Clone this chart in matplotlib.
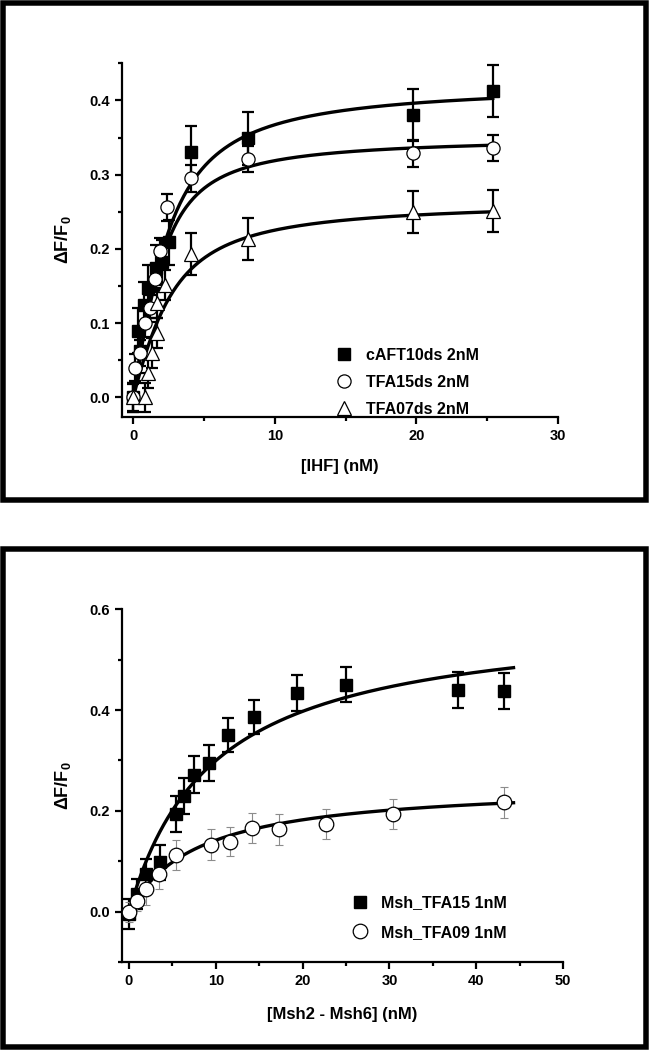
import numpy as np
import matplotlib
matplotlib.use("Agg")
import matplotlib.pyplot as plt
from matplotlib.patches import Rectangle

plt.rcParams["font.family"] = ["Liberation Sans", "DejaVu Sans"]
plt.rcParams["font.weight"] = "bold"
plt.rcParams["mathtext.fontset"] = "custom"
plt.rcParams["mathtext.rm"] = "Liberation Sans:bold"
plt.rcParams["mathtext.bf"] = "Liberation Sans:bold"

# ---- top panel: IHF titration ----
ihf_sq_x = [0, 0.35, 0.5, 0.75, 1.05, 1.6, 2.0, 2.5, 4.07, 8.1, 19.8, 25.4]
ihf_sq_y = [0.0, 0.09, 0.063, 0.125, 0.148, 0.175, 0.182, 0.209, 0.330, 0.349, 0.381, 0.413]
ihf_sq_e = [0.02, 0.03, 0.03, 0.03, 0.03, 0.03, 0.03, 0.03, 0.035, 0.036, 0.035, 0.035]

ihf_ci_x = [0, 0.15, 0.5, 0.8, 1.2, 1.5, 1.9, 2.35, 4.07, 8.1, 19.8, 25.4]
ihf_ci_y = [0.0, 0.04, 0.06, 0.1, 0.12, 0.16, 0.197, 0.256, 0.295, 0.321, 0.329, 0.336]
ihf_ci_e = [0.018] * 12

ihf_tr_x = [0, 0.8, 1.05, 1.3, 1.65, 1.7, 2.25, 4.07, 8.1, 19.8, 25.4]
ihf_tr_y = [0.0, 0.0, 0.033, 0.06, 0.087, 0.127, 0.151, 0.1935, 0.213, 0.25, 0.251]
ihf_tr_e = [0.02, 0.02, 0.02, 0.02, 0.02, 0.02, 0.02, 0.028, 0.028, 0.028, 0.028]

ihf_labels = ["cAFT10ds 2nM", "TFA15ds 2nM", "TFA07ds 2nM"]
# quadratic binding fits (DNA 2 nM): (Bmax, Kd)
ihf_fits = [(0.425, 1.3), (0.352, 0.85), (0.266, 1.5)]
ihf_dna = 2.0

# ---- bottom panel: Msh2-Msh6 titration ----
msh_sq_x = [0, 0.9, 2.0, 3.6, 5.4, 6.3, 7.5, 9.2, 11.4, 14.4, 19.4, 25.0, 37.9, 43.2]
msh_sq_y = [-0.005, 0.035, 0.075, 0.098, 0.193, 0.229, 0.272, 0.295, 0.35, 0.386, 0.434, 0.45, 0.44, 0.438]
msh_sq_e = [0.03, 0.03, 0.03, 0.035, 0.036, 0.036, 0.036, 0.035, 0.034, 0.034, 0.036, 0.035, 0.036, 0.036]

msh_ci_x = [0, 0.9, 2.0, 3.5, 5.4, 9.5, 11.6, 14.2, 17.3, 22.7, 30.4, 43.2]
msh_ci_y = [0.0, 0.021, 0.044, 0.074, 0.112, 0.133, 0.139, 0.166, 0.163, 0.174, 0.193, 0.217]
msh_ci_e = [0.02, 0.02, 0.03, 0.03, 0.03, 0.03, 0.029, 0.03, 0.031, 0.029, 0.03, 0.031]

msh_labels = ["Msh_TFA15 1nM", "Msh_TFA09 1nM"]
# hyperbolic fits: (Bmax, Kd)
msh_fits = [(0.59, 9.7), (0.255, 8.0)]


def quad_bind(x, bmax, kd, d):
    s = d + x + kd
    return bmax * (s - np.sqrt(s * s - 4 * d * x)) / (2 * d)


def style_axes(ax):
    for side in ["top", "right"]:
        ax.spines[side].set_visible(False)
    for side in ["left", "bottom"]:
        ax.spines[side].set_linewidth(1.6)
    ax.tick_params(which="major", direction="out", length=5, width=1.6, labelsize=10.5)
    ax.tick_params(which="minor", direction="out", length=3, width=1.6)
    for lab in ax.get_xticklabels() + ax.get_yticklabels():
        lab.set_fontweight("bold")


fig = plt.figure(figsize=(6.49, 10.5), dpi=100)

# frames around the two panels
lw_px = 5.5
hw = lw_px / 2
for top_px, bot_px in [(0, 503), (546, 1050)]:
    fig.add_artist(Rectangle((hw / 649, 1 - (bot_px - hw) / 1050),
                             (649 - 2 * hw) / 649, (bot_px - top_px - 2 * hw) / 1050,
                             transform=fig.transFigure, fill=False,
                             edgecolor="black", linewidth=lw_px * 0.72))

# top panel
ax1 = fig.add_axes([0.1875, 0.6031, 0.672, 0.3366])
eb_kw = dict(fmt="none", ecolor="black", elinewidth=1.6, capsize=4, capthick=1.6, zorder=2)
ax1.errorbar(ihf_sq_x, ihf_sq_y, yerr=ihf_sq_e, **eb_kw)
ax1.errorbar(ihf_ci_x, ihf_ci_y, yerr=ihf_ci_e, **eb_kw)
ax1.errorbar(ihf_tr_x, ihf_tr_y, yerr=ihf_tr_e, **eb_kw)
xs = np.linspace(0, 25.4, 300)
for bmax, kd in ihf_fits:
    ax1.plot(xs, quad_bind(xs, bmax, kd, ihf_dna), color="black", lw=2.4, zorder=3)
h1, = ax1.plot(ihf_sq_x, ihf_sq_y, "s", ms=8, color="black", zorder=4, label=ihf_labels[0])
h2, = ax1.plot(ihf_ci_x, ihf_ci_y, "o", ms=9.5, mfc="white", mec="black", mew=0.9,
               zorder=4, label=ihf_labels[1])
h3, = ax1.plot(ihf_tr_x, ihf_tr_y, "^", ms=10.5, mfc="white", mec="black", mew=0.9,
               zorder=4, label=ihf_labels[2])
ax1.set_xlim(-0.82, 30)
ax1.set_ylim(-0.026, 0.45)
ax1.set_xticks([0, 10, 20, 30])
ax1.set_xticks([5, 15, 25], minor=True)
ax1.set_yticks([0.0, 0.1, 0.2, 0.3, 0.4])
ax1.set_yticks([0.05, 0.15, 0.25, 0.35, 0.45], minor=True)
ax1.set_yticklabels(["0.0", "0.1", "0.2", "0.3", "0.4"])
ax1.set_xlabel("[IHF] (nM)", fontsize=12, fontweight="bold", labelpad=12)
ax1.set_ylabel(r"ΔF/F$_\mathbf{0}$", fontsize=13, fontweight="bold", labelpad=12)
style_axes(ax1)
ax1.legend(handles=[h1, h2, h3], loc="lower left", bbox_to_anchor=(0.47, -0.022),
           frameon=False, handlelength=1.2, handletextpad=0.75, labelspacing=0.75,
           prop={"weight": "bold", "size": 11.5}, borderpad=0)

# bottom panel
ax2 = fig.add_axes([0.1875, 0.0838, 0.680, 0.336])
ax2.errorbar(msh_sq_x, msh_sq_y, yerr=msh_sq_e, **eb_kw)
ax2.errorbar(msh_ci_x, msh_ci_y, yerr=msh_ci_e, fmt="none", ecolor="#8c8c8c",
             elinewidth=0.8, capsize=2.6, capthick=0.8, zorder=2)
xs2 = np.linspace(0, 44.3, 300)
for bmax, kd in msh_fits:
    ax2.plot(xs2, bmax * xs2 / (kd + xs2), color="black", lw=2.4, zorder=3)
g1, = ax2.plot(msh_sq_x, msh_sq_y, "s", ms=9, color="black", zorder=4, label=msh_labels[0])
g2, = ax2.plot(msh_ci_x, msh_ci_y, "o", ms=10.5, mfc="white", mec="black", mew=0.9,
               zorder=4, label=msh_labels[1])
ax2.set_xlim(-0.84, 50)
ax2.set_ylim(-0.1, 0.6)
ax2.set_xticks([0, 10, 20, 30, 40, 50])
ax2.set_xticks([5, 15, 25, 35, 45], minor=True)
ax2.set_yticks([0.0, 0.2, 0.4, 0.6])
ax2.set_yticks([-0.1, 0.1, 0.3, 0.5], minor=True)
ax2.set_yticklabels(["0.0", "0.2", "0.4", "0.6"])
ax2.set_xlabel("[Msh2 - Msh6] (nM)", fontsize=12, fontweight="bold", labelpad=14)
ax2.set_ylabel(r"ΔF/F$_\mathbf{0}$", fontsize=13, fontweight="bold", labelpad=12)
style_axes(ax2)
ax2.legend(handles=[g1, g2], loc="lower left", bbox_to_anchor=(0.5, 0.04),
           frameon=False, handlelength=1.2, handletextpad=0.75, labelspacing=0.9,
           prop={"weight": "bold", "size": 11.5}, borderpad=0)

fig.savefig("out.png", dpi=100)
